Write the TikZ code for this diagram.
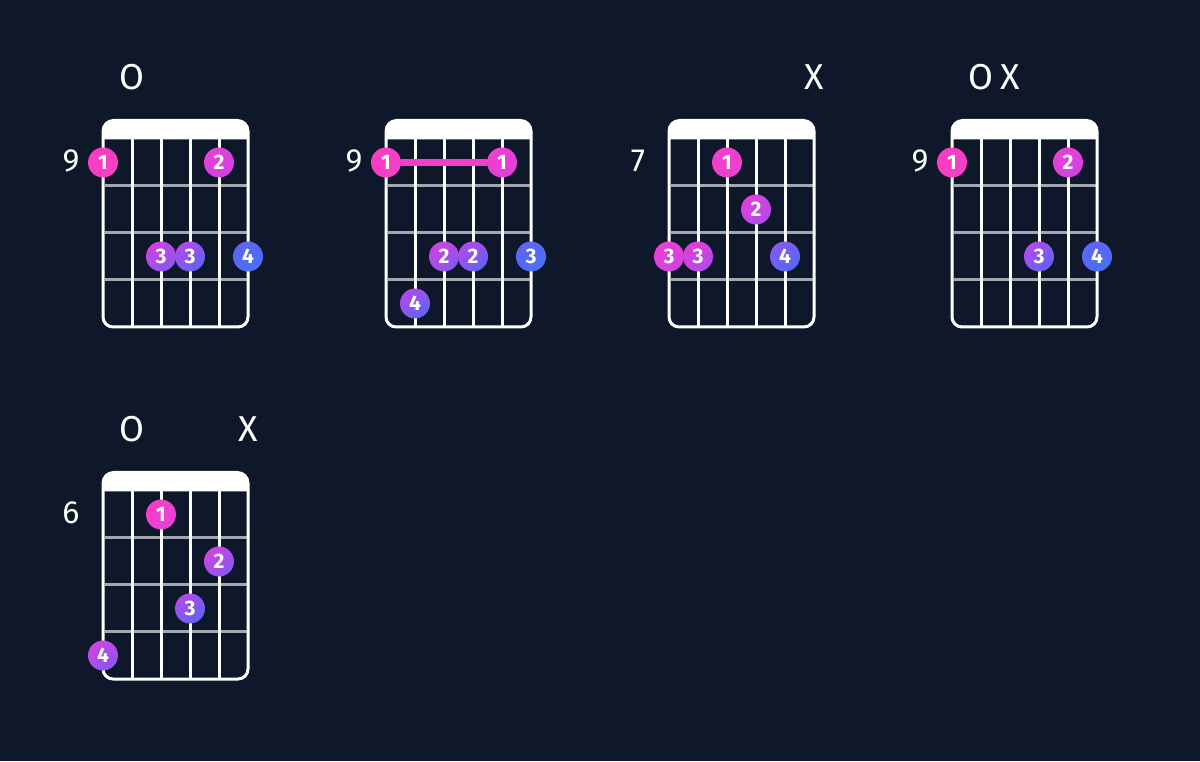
\documentclass[tikz,border=0pt]{standalone}
\usepackage{fontspec}
\setmainfont{Fira Sans}
\definecolor{bg}{HTML}{0F172A}
\definecolor{fretgray}{HTML}{A3A8B0}
\definecolor{barrepink}{HTML}{F23FC9}
\definecolor{c2}{HTML}{F93DC1}
\definecolor{c3}{HTML}{F63EC6}
\definecolor{c4}{HTML}{F33FC9}
\definecolor{c5}{HTML}{EF3FCE}
\definecolor{c6}{HTML}{E940D4}
\definecolor{c7}{HTML}{E03FDB}
\definecolor{c8}{HTML}{CF42E3}
\definecolor{c9}{HTML}{B04AEA}
\definecolor{c10}{HTML}{8658EF}
\definecolor{c11}{HTML}{6063F4}
\definecolor{c12}{HTML}{5169F5}
\definecolor{c13}{HTML}{4870F6}
\tikzset{
  fdot/.style={circle, minimum size=30pt, inner sep=0pt, text=white,
    font=\fontsize{21}{21}\selectfont\bfseries},
  fretnum/.style={text=white, font=\fontsize{32}{32}\selectfont, inner sep=0pt},
  openmark/.style={text=white, font=\fontsize{36}{36}\selectfont, inner sep=0pt},
  stringline/.style={draw=white, line width=3pt},
  fretline/.style={draw=fretgray, line width=3pt},
  barre/.style={draw=barrepink, line width=7pt},
  headfill/.style={fill=white},
}
% board drawn in local coordinates: origin = top of string 1 at the nut
\newcommand{\board}{%
  \fill[headfill] (-1.5,-0.5) -- (-1.5,8) arc[start angle=180,end angle=90,radius=12pt]
     -- (134.5,20) arc[start angle=90,end angle=0,radius=12pt] -- (146.5,-0.5) -- cycle;
  \foreach \yy in {-47,-94,-141} \draw[fretline] (1.5,\yy) -- (143.5,\yy);
  \foreach \xx in {29,58,87,116} \draw[stringline] (\xx,0) -- (\xx,-188);
  \draw[stringline] (0,0) -- (0,-178) arc[start angle=180,end angle=270,radius=10pt]
     -- (135,-188) arc[start angle=270,end angle=360,radius=10pt] -- (145,0);
}
% name, string, row, label, tone
\newcommand{\fdot}[5]{%
  \pgfmathtruncatemacro\tlo{#5-1}%
  \pgfmathtruncatemacro\thi{#5+1}%
  \node[fdot, top color=c\tlo, bottom color=c\thi, shading angle=39]
    (#1) at ({29*(#2-1)},{-47*(#3-0.5)}) {#4};
}
\begin{document}
\begin{tikzpicture}[x=1pt,y=1pt]
\fill[bg] (0,0) rectangle (1200,761);
\useasboundingbox (0,0) rectangle (1200,761);

% chord 1
\begin{scope}[shift={(103,622)}]
  \board
  \node[openmark] (c1o) at (29,62) {O};
  \node[fretnum] (c1f) at (-32,-22) {9};
  \fdot{c1a}{1}{1}{1}{3}
  \fdot{c1b}{5}{1}{2}{7}
  \fdot{c1c}{3}{3}{3}{9}
  \fdot{c1d}{4}{3}{3}{10}
  \fdot{c1e}{6}{3}{4}{12}
\end{scope}

% chord 2
\begin{scope}[shift={(386,622)}]
  \board
  \node[fretnum] (c2f) at (-32,-22) {9};
  \fdot{c2a}{1}{1}{1}{3}
  \fdot{c2b}{5}{1}{1}{6}
  \draw[barre] (c2a) -- (c2b);
  \fdot{c2c}{3}{3}{2}{9}
  \fdot{c2d}{4}{3}{2}{10}
  \fdot{c2e}{6}{3}{3}{12}
  \fdot{c2g}{2}{4}{4}{10}
\end{scope}

% chord 3
\begin{scope}[shift={(669,622)}]
  \board
  \node[openmark] (c3x) at (145,62) {X};
  \node[fretnum] (c3f) at (-31,-22) {7};
  \fdot{c3a}{3}{1}{1}{5}
  \fdot{c3b}{4}{2}{2}{8}
  \fdot{c3c}{1}{3}{3}{7}
  \fdot{c3d}{2}{3}{3}{8}
  \fdot{c3e}{5}{3}{4}{11}
\end{scope}

% chord 4
\begin{scope}[shift={(952,622)}]
  \board
  \node[openmark] (c4o) at (29,62) {O};
  \node[openmark] (c4x) at (58,62) {X};
  \node[fretnum] (c4f) at (-32,-22) {9};
  \fdot{c4a}{1}{1}{1}{3}
  \fdot{c4b}{5}{1}{2}{7}
  \fdot{c4c}{4}{3}{3}{10}
  \fdot{c4d}{6}{3}{4}{12}
\end{scope}

% chord 5
\begin{scope}[shift={(103,270)}]
  \board
  \node[openmark] (c5o) at (29,62) {O};
  \node[openmark] (c5x) at (145,62) {X};
  \node[fretnum] (c5f) at (-32,-22) {6};
  \fdot{c5a}{3}{1}{1}{5}
  \fdot{c5b}{5}{2}{2}{9}
  \fdot{c5c}{4}{3}{3}{10}
  \fdot{c5d}{1}{4}{4}{9}
\end{scope}
\end{tikzpicture}
\end{document}
